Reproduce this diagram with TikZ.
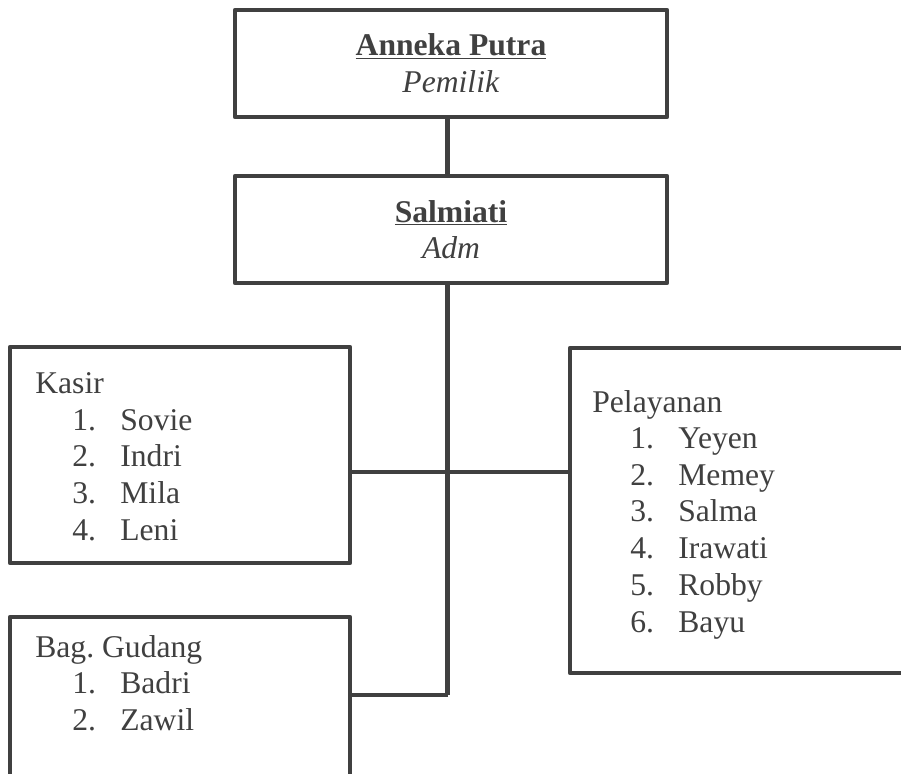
\documentclass[tikz,border=0pt]{standalone}
\usepackage{fontspec}
\setmainfont{Liberation Serif}
\usepackage{tikz}
\definecolor{ink}{HTML}{404040}
\tikzstyle{none}=[inner sep=0pt, text=ink, font=\fontsize{18}{21}\selectfont]
\tikzstyle{box}=[draw=ink, line width=2.4pt, line join=round, inner sep=0pt]
\tikzstyle{simple}=[-,draw=ink, line width=2.4pt]

\begin{document}
\begin{tikzpicture}
  \useasboundingbox (0, 0) rectangle (18.02, -15.46);
  \clip (0, 0) rectangle (18.02, -15.46);
  % boxes
  \node [style=box, minimum width=8.64cm, minimum height=2.14cm] (owner) at (9.02, -1.27) {};
  \node [style=box, minimum width=8.64cm, minimum height=2.14cm] (adm) at (9.02, -4.59) {};
  \node [style=box, minimum width=6.8cm, minimum height=4.32cm] (kasir) at (3.6, -9.1) {};
  \node [style=box, minimum width=6.8cm, minimum height=3.3cm] (gudang) at (3.6, -13.99) {};
  \node [style=box, minimum width=7cm, minimum height=6.5cm] (pelayanan) at (14.9, -10.21) {};
  \coordinate (spine) at (8.95, -13.9);
  \coordinate (join) at (8.95, -9.44);
  % titles
  \node [style=none, anchor=base] (ownername) at (9.02, -1.1) {\textbf{\underline{Anneka Putra}}};
  \node [style=none, anchor=base] (ownerrole) at (9.02, -1.84) {\textit{Pemilik}};
  \node [style=none, anchor=base] (admname) at (9.02, -4.44) {\textbf{\underline{Salmiati}}};
  \node [style=none, anchor=base] (admrole) at (9.02, -5.16) {\textit{Adm}};
  % kasir
  \node [style=none, anchor=base west] (k0) at (0.7, -7.86) {Kasir};
  \node [style=none, anchor=base west] (k1) at (1.44, -8.6) {1.};
  \node [style=none, anchor=base west] (k2) at (1.44, -9.334) {2.};
  \node [style=none, anchor=base west] (k3) at (1.44, -10.068) {3.};
  \node [style=none, anchor=base west] (k4) at (1.44, -10.802) {4.};
  \node [style=none, anchor=base west] (kn1) at (2.4, -8.6) {Sovie};
  \node [style=none, anchor=base west] (kn2) at (2.4, -9.334) {Indri};
  \node [style=none, anchor=base west] (kn3) at (2.4, -10.068) {Mila};
  \node [style=none, anchor=base west] (kn4) at (2.4, -10.802) {Leni};
  % gudang
  \node [style=none, anchor=base west] (g0) at (0.7, -13.14) {Bag.\ Gudang};
  \node [style=none, anchor=base west] (g1) at (1.44, -13.86) {1.};
  \node [style=none, anchor=base west] (g2) at (1.44, -14.6) {2.};
  \node [style=none, anchor=base west] (gn1) at (2.4, -13.86) {Badri};
  \node [style=none, anchor=base west] (gn2) at (2.4, -14.6) {Zawil};
  % pelayanan
  \node [style=none, anchor=base west] (p0) at (11.84, -8.24) {Pelayanan};
  \node [style=none, anchor=base west] (p1) at (12.6, -8.97) {1.};
  \node [style=none, anchor=base west] (p2) at (12.6, -9.704) {2.};
  \node [style=none, anchor=base west] (p3) at (12.6, -10.438) {3.};
  \node [style=none, anchor=base west] (p4) at (12.6, -11.172) {4.};
  \node [style=none, anchor=base west] (p5) at (12.6, -11.906) {5.};
  \node [style=none, anchor=base west] (p6) at (12.6, -12.64) {6.};
  \node [style=none, anchor=base west] (pn1) at (13.56, -8.97) {Yeyen};
  \node [style=none, anchor=base west] (pn2) at (13.56, -9.704) {Memey};
  \node [style=none, anchor=base west] (pn3) at (13.56, -10.438) {Salma};
  \node [style=none, anchor=base west] (pn4) at (13.56, -11.172) {Irawati};
  \node [style=none, anchor=base west] (pn5) at (13.56, -11.906) {Robby};
  \node [style=none, anchor=base west] (pn6) at (13.56, -12.64) {Bayu};
  % connectors
  \draw [style=simple] (owner.south -| spine) to (adm.north -| spine);
  \draw [style=simple] (adm.south -| spine) to (spine);
  \draw [style=simple] (kasir.east |- join) to (pelayanan.west |- join);
  \draw [style=simple] (gudang.east |- spine) to (spine);
\end{tikzpicture}
\end{document}
